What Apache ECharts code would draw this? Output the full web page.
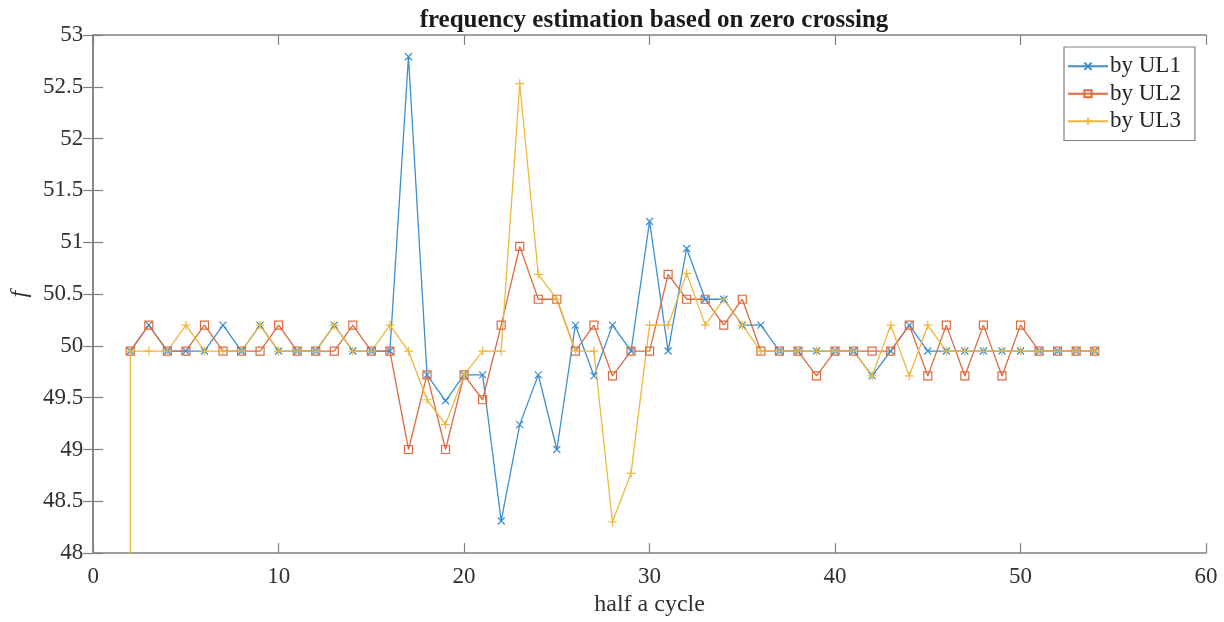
<!DOCTYPE html>
<html>
<head>
<meta charset="utf-8">
<script src="https://cdn.jsdelivr.net/npm/echarts@6/dist/echarts.min.js"></script>
<style>
html,body{margin:0;padding:0;background:#ffffff;}
#chart{width:1224px;height:622px;}
</style>
</head>
<body>
<div id="chart"></div>
<script>
// ---- data ----
const halfCycles = [2,3,4,5,6,7,8,9,10,11,12,13,14,15,16,17,18,19,20,21,22,23,24,25,26,27,28,
  29,30,31,32,33,34,35,36,37,38,39,40,41,42,43,44,45,46,47,48,49,50,51,52,53,54];

const ul1 = [49.95,50.2,49.95,49.95,49.95,50.2,49.95,50.2,49.95,49.95,49.95,50.2,49.95,49.95,49.95,
  52.79,49.72,49.47,49.72,49.72,48.31,49.24,49.72,49.0,50.2,49.71,50.2,49.95,51.2,49.95,50.94,
  50.45,50.45,50.2,50.2,49.95,49.95,49.95,49.95,49.95,49.71,49.95,50.2,49.95,49.95,49.95,49.95,
  49.95,49.95,49.95,49.95,49.95,49.95];

const ul2 = [49.95,50.2,49.95,49.95,50.2,49.95,49.95,49.95,50.2,49.95,49.95,49.95,50.2,49.95,49.95,
  49.0,49.72,49.0,49.72,49.48,50.2,50.96,50.45,50.45,49.95,50.2,49.71,49.95,49.95,50.69,50.45,
  50.45,50.2,50.45,49.95,49.95,49.95,49.71,49.95,49.95,49.95,49.95,50.2,49.71,50.2,49.71,50.2,
  49.71,50.2,49.95,49.95,49.95,49.95];

const ul3 = [49.95,49.95,49.95,50.2,49.95,49.95,49.95,50.2,49.95,49.95,49.95,50.2,49.95,49.95,50.2,
  49.95,49.48,49.24,49.72,49.95,49.95,52.53,50.69,50.45,49.95,49.95,48.30,48.77,50.2,50.2,50.70,
  50.2,50.45,50.2,49.95,49.95,49.95,49.95,49.95,49.95,49.71,50.2,49.71,50.2,49.95,49.95,49.95,
  49.95,49.95,49.95,49.95,49.95,49.95];

// UL3 starts from a value far below the axis range at the first half cycle
const ul3StartX = 2;
const ul3StartValue = 0;

const seriesNames = ['by UL1', 'by UL2', 'by UL3'];
const titleText = 'frequency estimation based on zero crossing';
const xAxisTitle = 'half a cycle';
const yAxisTitle = 'f';

// ---- chart ----
const FONT = 'Liberation Serif';
const colors = ['#3B8ED0', '#DC6A40', '#EDB83C'];
const axisGray = '#808080';

const symX = 'path://M0,0L10,10M10,0L0,10';
const symPlus = 'path://M5,0L5,10M0,5L10,5';
const symSquare = 'path://M0,0L10,0L10,10L0,10Z';

function pairs(xs, ys) { return xs.map((x, i) => [x, ys[i]]); }

const d1 = pairs(halfCycles, ul1);
const d2 = pairs(halfCycles, ul2);
const d3 = [[ul3StartX, ul3StartValue]].concat(pairs(halfCycles, ul3));

function mkSeries(name, data, color, symbol, size) {
  return {
    name: name,
    type: 'line',
    data: data,
    xAxisIndex: 0,
    yAxisIndex: 0,
    clip: true,
    symbol: symbol,
    symbolSize: size,
    showAllSymbol: true,
    animation: false,
    lineStyle: { color: color, width: 1.3 },
    itemStyle: { color: 'rgba(0,0,0,0)', borderColor: color, borderWidth: 1.2 },
    emphasis: { disabled: true }
  };
}

const chart = echarts.init(document.getElementById('chart'), null, { renderer: 'canvas' });

const commonTick = { show: true, inside: true, length: 10, lineStyle: { color: axisGray, width: 1.2 } };
const commonLine = { show: true, lineStyle: { color: axisGray, width: 1.5 } };
const labelStyle = { fontFamily: FONT, fontSize: 23, color: '#303030' };

chart.setOption({
  backgroundColor: '#ffffff',
  animation: false,
  title: {
    text: titleText,
    left: 649,
    textAlign: 'center',
    top: 3,
    textStyle: { fontFamily: FONT, fontWeight: 'bold', fontSize: 25, color: '#1a1a1a' }
  },
  legend: {
    data: seriesNames,
    orient: 'vertical',
    left: 1064,
    top: 47,
    padding: [6, 14, 6, 3],
    itemGap: 1,
    itemWidth: 40,
    itemHeight: 9,
    backgroundColor: '#ffffff',
    borderColor: axisGray,
    borderWidth: 1.2,
    borderRadius: 0,
    textStyle: { fontFamily: FONT, fontSize: 23, color: '#262626', lineHeight: 26.5, padding: [0, 0, 0, -3] }
  },
  grid: { left: 92, right: 18, top: 35, bottom: 67, containLabel: false },
  xAxis: [
    {
      type: 'value', min: 0, max: 60, interval: 10, position: 'bottom',
      name: xAxisTitle, nameLocation: 'middle', nameGap: 39,
      nameTextStyle: { fontFamily: FONT, fontSize: 24, color: '#303030' },
      axisLine: commonLine, axisTick: commonTick,
      axisLabel: Object.assign({ margin: 12 }, labelStyle),
      splitLine: { show: false }
    },
    {
      type: 'value', min: 0, max: 60, interval: 10, position: 'top',
      axisLine: commonLine, axisTick: commonTick,
      axisLabel: { show: false }, splitLine: { show: false }
    }
  ],
  yAxis: [
    {
      type: 'value', min: 48, max: 53, interval: 0.5, position: 'left',
      name: yAxisTitle, nameLocation: 'middle', nameGap: 58,
      nameTextStyle: { fontFamily: FONT, fontSize: 24, fontStyle: 'italic', color: '#303030' },
      axisLine: commonLine, axisTick: commonTick,
      axisLabel: Object.assign({ margin: 10 }, labelStyle),
      splitLine: { show: false }
    },
    {
      type: 'value', min: 48, max: 53, interval: 0.5, position: 'right',
      axisLine: commonLine, axisTick: commonTick,
      axisLabel: { show: false }, splitLine: { show: false }
    }
  ],
  series: [
    mkSeries(seriesNames[0], d1, colors[0], symX, 7),
    mkSeries(seriesNames[1], d2, colors[1], symSquare, 8),
    mkSeries(seriesNames[2], d3, colors[2], symPlus, 9)
  ]
});
</script>
</body>
</html>
